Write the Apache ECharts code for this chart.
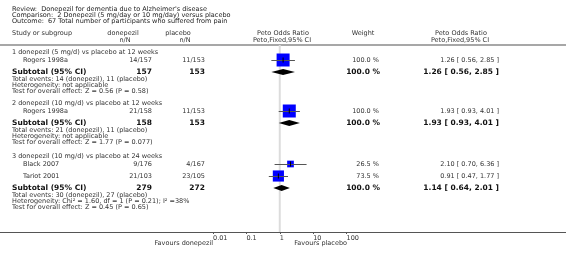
<!DOCTYPE html>
<html><head><meta charset="utf-8">
<script src="https://cdn.jsdelivr.net/npm/echarts@6/dist/echarts.min.js"></script>
<style>html,body{margin:0;padding:0;background:#fff}#c{width:566px;height:261px}</style>
</head><body><div id="c"></div>
<script>
// ---------- data ----------
const titleLines = [
  "Review:  Donepezil for dementia due to Alzheimer's disease",
  "Comparison:  2 Donepezil (5 mg/day or 10 mg/day) versus placebo",
  "Outcome:  67 Total number of participants who suffered from pain"
];
const groupTitles = [
  "1 donepezil (5 mg/d) vs placebo at 12 weeks",
  "2 donepezil (10 mg/d) vs placebo at 12 weeks",
  "3 donepezil (10 mg/d) vs placebo at 24 weeks"
];
const studyNames   = ["Rogers 1998a", "Rogers 1998a", "Black 2007", "Tariot 2001"];
const expEvents    = [14, 21, 9, 21];
const expTotal     = [157, 158, 176, 103];
const ctlEvents    = [11, 11, 4, 23];
const ctlTotal     = [153, 153, 167, 105];
const studyOR      = [1.26, 1.93, 2.10, 0.91];
const studyLo      = [0.56, 0.93, 0.70, 0.47];
const studyHi      = [2.85, 4.01, 6.36, 1.77];
const studyWeight  = [100.0, 100.0, 26.5, 73.5];

const subExpTotal  = [157, 158, 279];
const subCtlTotal  = [153, 153, 272];
const subExpEvents = [14, 21, 30];
const subCtlEvents = [11, 11, 27];
const subOR        = [1.26, 1.93, 1.14];
const subLo        = [0.56, 0.93, 0.64];
const subHi        = [2.85, 4.01, 2.01];
const subWeight    = [100.0, 100.0, 100.0];
const heterogeneity = [
  "Heterogeneity: not applicable",
  "Heterogeneity: not applicable",
  "Heterogeneity: Chi\u00B2 = 1.60, df = 1 (P = 0.21); I\u00B2 =38%"
];
const overallEffect = [
  "Test for overall effect: Z = 0.56 (P = 0.58)",
  "Test for overall effect: Z = 1.77 (P = 0.077)",
  "Test for overall effect: Z = 0.45 (P = 0.65)"
];
const tickValues = [0.01, 0.1, 1, 10, 100];
const tickLabels = ["0.01", "0.1", "1", "10", "100"];
const favoursLeft = "Favours donepezil";
const favoursRight = "Favours placebo";

// ---------- layout (page pixel rows) ----------
const titleY = [9, 15, 21];
const head1Y = 33, head2Y = 40, headLineY = 45, bottomLineY = 232;
const groupTitleY = [52, 103, 156];
const studyY = [60, 111, 164, 176];
const subtotalY = [72, 123, 188];
const FONT = '"DejaVu Sans", Verdana, sans-serif';
const TXT = '#333';
const fs = 6.5, fsb = 7.5;

function fmt2(v){ return v.toFixed(2); }
function ciText(o,l,h){ return fmt2(o) + ' [ ' + fmt2(l) + ', ' + fmt2(h) + ' ]'; }

const g = [];
function txt(text, x, y, opt){
  opt = opt || {};
  g.push({type:'text', x:x, y:y, silent:true, style:{
    text:text, fill: opt.fill || TXT,
    font: (opt.bold ? 'bold ' : '') + (opt.size || fs) + 'px ' + FONT,
    align: opt.align || 'left', verticalAlign:'middle'}});
}
titleLines.forEach((t,i)=>txt(t, 12, titleY[i], {fill:'#222'}));
txt("Study or subgroup", 12, head1Y);
txt("donepezil", 123, head1Y, {align:'center'});
txt("n/N", 125, head2Y, {align:'center'});
txt("placebo", 178, head1Y, {align:'center'});
txt("n/N", 185, head2Y, {align:'center'});
txt("Peto Odds Ratio", 283, head1Y, {align:'center'});
txt("Peto,Fixed,95% CI", 282, head2Y, {align:'center'});
txt("Weight", 363, head1Y, {align:'center'});
txt("Peto Odds Ratio", 461, head1Y, {align:'center'});
txt("Peto,Fixed,95% CI", 460, head2Y, {align:'center'});

groupTitles.forEach((t,i)=>txt(t, 12, groupTitleY[i]));
studyNames.forEach((n,i)=>{
  const y = studyY[i];
  txt(n, 23, y);
  txt(expEvents[i] + '/' + expTotal[i], 152, y, {align:'right'});
  txt(ctlEvents[i] + '/' + ctlTotal[i], 205, y, {align:'right'});
  txt(studyWeight[i].toFixed(1) + ' %', 379, y, {align:'right'});
  txt(ciText(studyOR[i], studyLo[i], studyHi[i]), 499, y, {align:'right'});
});
subtotalY.forEach((y,i)=>{
  txt("Subtotal (95% CI)", 12, y, {bold:true, size:fsb, fill:'#111'});
  txt(String(subExpTotal[i]), 152, y, {bold:true, size:fsb, fill:'#111', align:'right'});
  txt(String(subCtlTotal[i]), 205, y, {bold:true, size:fsb, fill:'#111', align:'right'});
  txt(subWeight[i].toFixed(1) + ' %', 380, y, {bold:true, size:fsb, fill:'#111', align:'right'});
  txt(ciText(subOR[i], subLo[i], subHi[i]), 499, y, {bold:true, size:fsb, fill:'#111', align:'right'});
  txt("Total events: " + subExpEvents[i] + " (donepezil), " + subCtlEvents[i] + " (placebo)", 12, y + 7.5);
  txt(heterogeneity[i], 12, y + 13.5);
  txt(overallEffect[i], 12, y + 19.5);
});
txt(favoursLeft, 213, 243, {align:'right'});
txt(favoursRight, 347, 243, {align:'right'});

g.push({type:'line', silent:true, shape:{x1:0, y1:headLineY, x2:566, y2:headLineY}, style:{stroke:'#8a8a8a', lineWidth:1.5}});
g.push({type:'line', silent:true, shape:{x1:0, y1:bottomLineY+0.5, x2:566, y2:bottomLineY+0.5}, style:{stroke:'#555', lineWidth:1}});

const chart = echarts.init(document.getElementById('c'), null, {renderer:'canvas'});
chart.setOption({
  animation:false,
  backgroundColor:'#fff',
  grid:{left:213, width:133.5, top:headLineY, height:bottomLineY-headLineY},
  xAxis:{type:'log', logBase:10, min:0.01, max:100, interval:1,
    axisLine:{show:false},
    axisTick:{show:true, length:2, lineStyle:{color:'#555'}},
    splitLine:{show:false},
    axisLabel:{fontSize:fs, fontFamily:FONT, color:TXT, align:'left', margin:3,
      formatter:(v)=>{ const k = tickValues.findIndex(t=>Math.abs(Math.log10(t)-Math.log10(v))<1e-6); return k>=0?tickLabels[k]:''; }}
  },
  yAxis:{type:'value', min:headLineY, max:bottomLineY, inverse:true, show:false},
  graphic:g,
  series:[
    { type:'custom', silent:true, z:1,
      data:[[1]],
      renderItem:(params, api)=>{
        const a = api.coord([1, headLineY]), b = api.coord([1, bottomLineY]);
        return {type:'line', shape:{x1:a[0], y1:a[1], x2:b[0], y2:b[1]}, style:{stroke:'#dcdcdc', lineWidth:2}};
      }
    },
    { type:'custom', silent:true, z:3,
      data: studyOR.map((o,i)=>[o, studyY[i], studyLo[i], studyHi[i], studyWeight[i]]),
      renderItem:(params, api)=>{
        const c = api.coord([api.value(0), api.value(1)]);
        const l = api.coord([api.value(2), api.value(1)]);
        const h = api.coord([api.value(3), api.value(1)]);
        const s = 13 * Math.sqrt(api.value(4)/100);
        return {type:'group', children:[
          {type:'rect', shape:{x:c[0]-s/2, y:c[1]-s/2, width:s, height:s}, style:{fill:'#0000ff'}},
          {type:'line', shape:{x1:l[0], y1:c[1]+0.5, x2:h[0], y2:c[1]+0.5}, style:{stroke:'#555', lineWidth:1}},
          {type:'line', shape:{x1:c[0], y1:c[1]-2.5, x2:c[0], y2:c[1]+2.5}, style:{stroke:'#000', lineWidth:1}}
        ]};
      }
    },
    { type:'custom', silent:true, z:3,
      data: subOR.map((o,i)=>[o, subtotalY[i], subLo[i], subHi[i]]),
      renderItem:(params, api)=>{
        const c = api.coord([api.value(0), api.value(1)]);
        const l = api.coord([api.value(2), api.value(1)]);
        const h = api.coord([api.value(3), api.value(1)]);
        return {type:'polygon', shape:{points:[[l[0],c[1]],[c[0],c[1]-3],[h[0],c[1]],[c[0],c[1]+3]]}, style:{fill:'#000'}};
      }
    }
  ]
});
</script></body></html>
